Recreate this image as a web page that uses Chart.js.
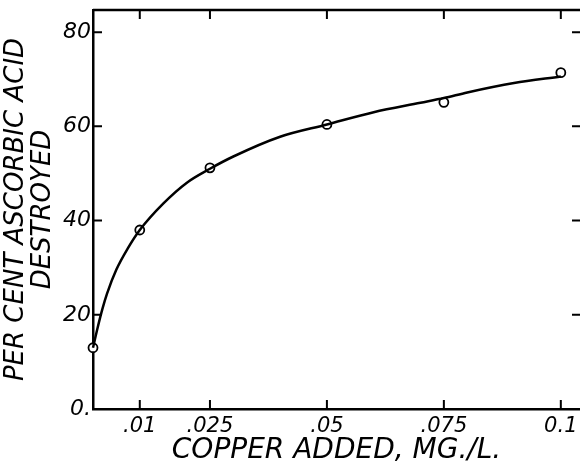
<!DOCTYPE html>
<html>
<head>
<meta charset="utf-8">
<script src="https://cdn.jsdelivr.net/npm/chart.js@4.4.0/dist/chart.umd.min.js"></script>
<style>
  html, body { margin: 0; padding: 0; background: #fff; overflow: hidden; }
</style>
</head>
<body>
<canvas id="cuChart" width="580" height="468"></canvas>
<script>
// measured points (circles)
const copperAdded = [0, 0.01, 0.025, 0.05, 0.075, 0.1];
const pctDestroyed = [13, 38, 51.2, 60.4, 65.1, 71.4];

// hand drawn curve
const curveX = [0, 0.001, 0.002, 0.003, 0.005, 0.0075, 0.01, 0.015, 0.02, 0.025, 0.03, 0.04, 0.05, 0.06, 0.07, 0.075, 0.08, 0.09, 0.1];
const curveY = [13, 17.3, 21.2, 24.5, 29.6, 34.2, 38, 43.6, 48, 51, 53.6, 57.8, 60.4, 63, 65, 66, 67.2, 69.2, 70.6];

// tick labels
const xTicks = [0, 0.01, 0.025, 0.05, 0.075, 0.1];
const xTickLabels = ['', '.01', '.025', '.05', '.075', '0.1'];
const yTicks = [0, 20, 40, 60, 80];
const yTickLabels = ['0.', '20', '40', '60', '80'];

const handFont = 'DejaVu Sans';

// inward tick marks + top frame (right frame line lies just past the picture edge)
const frameTicks = {
    id: 'frameTicks',
    afterDraw(chart) {
        const ctx = chart.ctx;
        const a = chart.chartArea;
        const xs = chart.scales.x;
        const ys = chart.scales.y;
        ctx.save();
        ctx.strokeStyle = '#000';
        ctx.lineWidth = 2.5;
        ctx.beginPath();
        ctx.moveTo(a.left, a.top);
        ctx.lineTo(a.right, a.top);
        ctx.stroke();
        ctx.lineWidth = 2;
        ctx.beginPath();
        xTicks.forEach(function(v) {
            if (v === 0) return;
            const px = xs.getPixelForValue(v);
            ctx.moveTo(px, a.bottom);
            ctx.lineTo(px, a.bottom - 9);
            ctx.moveTo(px, a.top);
            ctx.lineTo(px, a.top + 9);
        });
        yTicks.forEach(function(v) {
            if (v === 0) return;
            const py = ys.getPixelForValue(v);
            ctx.moveTo(a.left, py);
            ctx.lineTo(a.left + 9, py);
            ctx.moveTo(a.right, py);
            ctx.lineTo(a.right - 8, py);
        });
        ctx.stroke();
        ctx.restore();
    }
};

const ctx = document.getElementById('cuChart').getContext('2d');
const cuChart = new Chart(ctx, {
    type: 'scatter',
    data: {
        datasets: [{
            data: curveX.map(function(x, i) { return { x: x, y: curveY[i] }; }),
            showLine: true,
            borderColor: '#000',
            borderWidth: 2.5,
            pointRadius: 0,
            tension: 0.4,
            cubicInterpolationMode: 'monotone',
            clip: false
        }, {
            data: copperAdded.map(function(x, i) { return { x: x, y: pctDestroyed[i] }; }),
            showLine: false,
            pointStyle: 'circle',
            pointRadius: 4.5,
            pointBackgroundColor: '#fff',
            pointBorderColor: '#000',
            pointBorderWidth: 1.8,
            clip: false
        }]
    },
    options: {
        responsive: false,
        animation: false,
        layout: { autoPadding: false, padding: { top: 10, right: 0, left: 0, bottom: 0 } },
        plugins: {
            legend: { display: false },
            tooltip: { enabled: false }
        },
        scales: {
            x: {
                type: 'linear',
                min: 0,
                max: 0.1041,
                afterBuildTicks: function(scale) {
                    scale.ticks = xTicks.map(function(v) { return { value: v }; });
                },
                afterFit: function(scale) {
                    scale.height = 59;
                    scale.paddingLeft = 0;
                    scale.paddingRight = 0;
                },
                grid: { display: false, drawTicks: false },
                border: { display: true, color: '#000', width: 2.5 },
                ticks: {
                    color: '#000',
                    padding: 5,
                    maxRotation: 0,
                    autoSkip: false,
                    font: { family: handFont, size: 21, style: 'italic' },
                    callback: function(value) {
                        const i = xTicks.indexOf(value);
                        return i >= 0 ? xTickLabels[i] : '';
                    }
                },
                title: {
                    display: true,
                    text: 'COPPER ADDED, MG./L.',
                    color: '#000',
                    padding: { top: 0, bottom: 0 },
                    font: { family: handFont, size: 28, style: 'italic' }
                }
            },
            y: {
                min: 0,
                max: 84.7,
                afterBuildTicks: function(scale) {
                    scale.ticks = yTicks.map(function(v) { return { value: v }; });
                },
                afterFit: function(scale) {
                    scale.width = 93;
                    scale.paddingTop = 0;
                    scale.paddingBottom = 0;
                },
                grid: { display: false, drawTicks: false },
                border: { display: true, color: '#000', width: 2.5 },
                ticks: {
                    color: '#000',
                    padding: 2,
                    autoSkip: false,
                    font: { family: handFont, size: 22, style: 'italic' },
                    callback: function(value) {
                        const i = yTicks.indexOf(value);
                        return i >= 0 ? yTickLabels[i] : '';
                    }
                },
                title: {
                    display: true,
                    text: ['PER CENT ASCORBIC ACID', 'DESTROYED'],
                    color: '#000',
                    padding: { top: 3, bottom: 0 },
                    font: { family: handFont, size: 26, style: 'italic', lineHeight: 1.02 }
                }
            }
        }
    },
    plugins: [frameTicks]
});
</script>
</body>
</html>
